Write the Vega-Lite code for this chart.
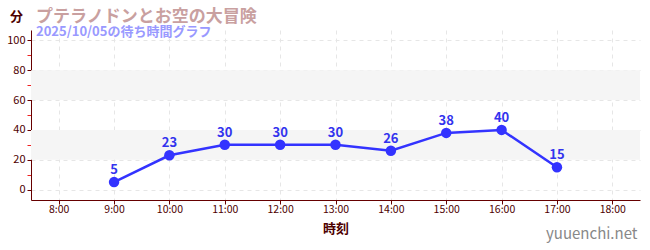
{
  "$schema": "https://vega.github.io/schema/vega-lite/v6.json",
  "width": 609,
  "height": 170,
  "autosize": {"type": "none"},
  "padding": {"left": 31, "top": 30, "right": 10, "bottom": 50},
  "config": {
    "font": "Noto Sans CJK JP",
    "view": {"stroke": null}
  },
  "title": {
    "text": "プテラノドンとお空の大冒険",
    "subtitle": "2025/10/05の待ち時間グラフ",
    "anchor": "start",
    "frame": "group",
    "dx": 5,
    "offset": -30,
    "fontSize": 17,
    "fontWeight": "bold",
    "color": "#c9a0a0",
    "subtitleFontSize": 13,
    "subtitleFontWeight": "bold",
    "subtitleColor": "#9999ff",
    "subtitlePadding": 0
  },
  "datasets": {
    "waits": [
      {"hour": 9, "wait": 5},
      {"hour": 10, "wait": 23},
      {"hour": 11, "wait": 30},
      {"hour": 12, "wait": 30},
      {"hour": 13, "wait": 30},
      {"hour": 14, "wait": 26},
      {"hour": 15, "wait": 38},
      {"hour": 16, "wait": 40},
      {"hour": 17, "wait": 15}
    ],
    "bands": [
      {"lo": 20, "hi": 40},
      {"lo": 60, "hi": 80}
    ]
  },
  "layer": [
    {
      "data": {"name": "bands"},
      "mark": {"type": "rect", "color": "#f5f5f5"},
      "encoding": {
        "y": {"field": "lo", "type": "quantitative", "scale": {"domain": [-7, 107], "nice": false, "zero": false},
          "axis": {
            "values": [0, 10, 20, 30, 40, 50, 60, 70, 80, 90, 100],
            "labelExpr": "datum.value % 20 == 0 ? datum.label : ''",
            "title": "分",
            "titleAngle": 0,
            "titleX": -15,
            "titleY": -14,
            "titleAlign": "center",
            "titleBaseline": "middle",
            "titleFontSize": 13,
            "titleFontWeight": "bold",
            "titleColor": "#4d0000",
            "labelColor": "#4d0000",
            "labelFontSize": 11,
            "labelPadding": 2,
            "domainColor": "#660000",
            "tickColor": {"condition": {"test": "datum.value % 20 != 0", "value": "#ee2222"}, "value": "#660000"},
            "tickSize": 4,
            "grid": true,
            "gridDash": [4, 4],
            "gridColor": "#e6e6e6",
            "gridOpacity": {"condition": {"test": "datum.value % 20 != 0", "value": 0}, "value": 1}
          }
        },
        "y2": {"field": "hi"}
      }
    },
    {
      "data": {"name": "waits"},
      "mark": {"type": "line", "color": "#3333ff", "strokeWidth": 2.5},
      "encoding": {
        "x": {"field": "hour", "type": "quantitative", "scale": {"domain": [7.5, 18.5], "nice": false, "zero": false},
          "axis": {
            "values": [8, 9, 10, 11, 12, 13, 14, 15, 16, 17, 18],
            "labelExpr": "datum.value + ':00'",
            "title": "時刻",
            "titleFontSize": 13,
            "titleFontWeight": "bold",
            "titleColor": "#4d0000",
            "titlePadding": 8,
            "labelColor": "#4d0000",
            "labelFontSize": 10.5,
            "labelPadding": 0,
            "domainColor": "#660000",
            "tickColor": "#660000",
            "tickSize": 4,
            "grid": true,
            "gridDash": [4, 4],
            "gridColor": "#e6e6e6"
          }
        },
        "y": {"field": "wait", "type": "quantitative", "axis": null}
      }
    },
    {
      "data": {"name": "waits"},
      "mark": {"type": "point", "filled": true, "opacity": 1, "color": "#3333ff", "size": 110},
      "encoding": {
        "x": {"field": "hour", "type": "quantitative"},
        "y": {"field": "wait", "type": "quantitative", "axis": null}
      }
    },
    {
      "data": {"name": "waits"},
      "mark": {"type": "text", "color": "#3333ee", "fontSize": 13, "fontWeight": "bold", "dy": -5, "baseline": "bottom"},
      "encoding": {
        "x": {"field": "hour", "type": "quantitative"},
        "y": {"field": "wait", "type": "quantitative",
          "axis": {
            "orient": "right",
            "domain": false,
            "ticks": false,
            "labels": false,
            "grid": false,
            "title": "yuuenchi.net",
            "titleAngle": 0,
            "titleAlign": "right",
            "titleBaseline": "middle",
            "titleX": -3,
            "titleY": 203,
            "titleFontSize": 15,
            "titleFontWeight": "normal",
            "titleColor": "#888888"
          }
        },
        "text": {"field": "wait", "type": "quantitative"}
      }
    }
  ],
  "resolve": {"axis": {"y": "independent"}}
}
